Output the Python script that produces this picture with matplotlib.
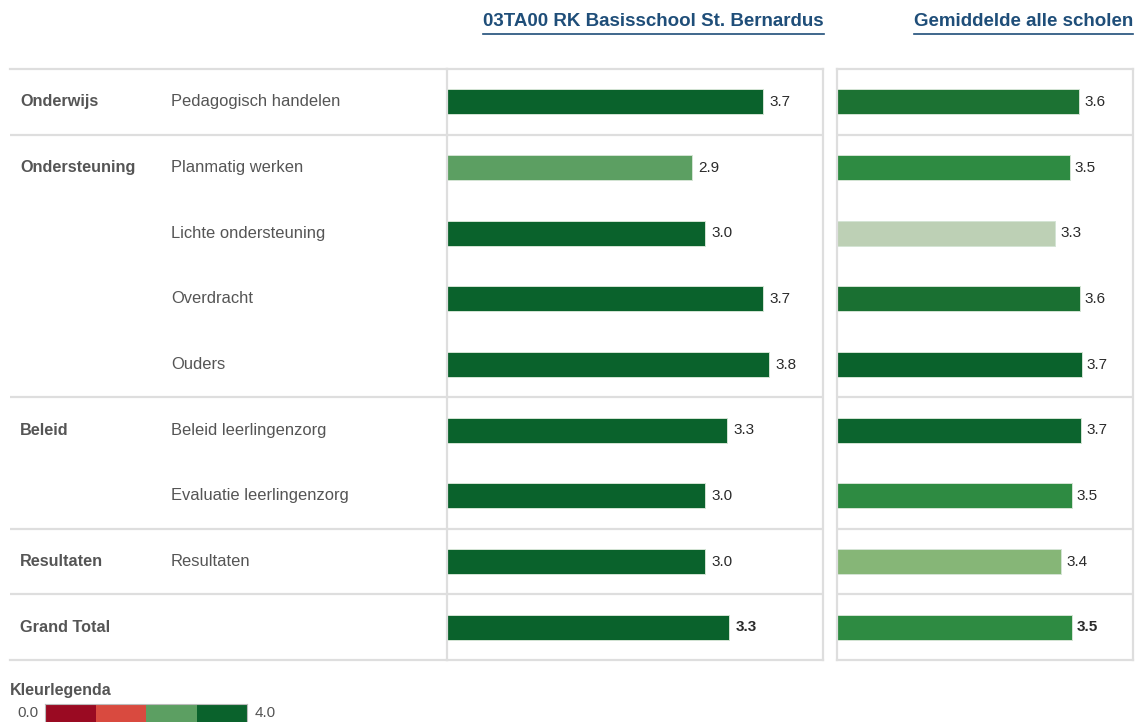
import matplotlib
matplotlib.use("Agg")
import matplotlib.pyplot as plt
from matplotlib.colors import ListedColormap
from matplotlib.lines import Line2D
import numpy as np

# ---------------- data ----------------
groups = ["Onderwijs", "Ondersteuning", "", "", "", "Beleid", "", "Resultaten", "Grand Total"]
items = ["Pedagogisch handelen", "Planmatig werken", "Lichte ondersteuning", "Overdracht",
         "Ouders", "Beleid leerlingenzorg", "Evaluatie leerlingenzorg", "Resultaten", ""]
school_values = [3.70, 2.87, 3.02, 3.70, 3.77, 3.28, 3.02, 3.02, 3.30]
avg_values = [3.64, 3.50, 3.28, 3.65, 3.68, 3.67, 3.53, 3.37, 3.53]
school_title = "03TA00 RK Basisschool St. Bernardus"
avg_title = "Gemiddelde alle scholen"
group_breaks = [1, 5, 7, 8]  # row index where a new group starts
legend_title = "Kleurlegenda"
legend_min, legend_max = "0.0", "4.0"

# styles
school_colors = ["#0a622c", "#5c9f62", "#0a622c", "#0a622c", "#0a622c",
                 "#0a622c", "#0a622c", "#0a622c", "#0a622c"]
avg_colors = ["#1c7233", "#2e8b42", "#bdd0b5", "#1a7032", "#0a622c",
              "#0c642e", "#2e8b42", "#86b677", "#2e8b42"]
legend_colors = ["#9a0a22", "#d94a3f", "#5c9f62", "#0a622c"]

W, H = 1136, 722
fig = plt.figure(figsize=(W / 100, H / 100), dpi=100)
fig.patch.set_facecolor("white")

FONT = ["Liberation Sans", "DejaVu Sans"]
NARROW = ["Liberation Sans Narrow", "Liberation Sans", "DejaVu Sans"]
GRID = "#dedede"
LABEL = "#555555"


def rect(x0, y0, x1, y1):
    return [x0 / W, 1 - y1 / H, (x1 - x0) / W, (y1 - y0) / H]


n = len(items)
top, bottom = 69, 660

# label area
lab = fig.add_axes(rect(10, top, 447, bottom))
lab.set_xlim(0, 1)
lab.set_ylim(n, 0)
lab.set_xticks([]); lab.set_yticks([])
for s in ["left", "right"]:
    lab.spines[s].set_visible(False)
for s in ["top", "bottom"]:
    lab.spines[s].set_color(GRID); lab.spines[s].set_linewidth(1.6)
for b in group_breaks:
    lab.axhline(b, color=GRID, lw=1.6)
for i, (g, it) in enumerate(zip(groups, items)):
    lab.text(10 / 437, i + 0.5, g, ha="left", va="center", fontsize=11.7,
             fontweight="bold", color=LABEL, family=FONT)
    lab.text(161 / 437, i + 0.5, it, ha="left", va="center", fontsize=11.9,
             color=LABEL, family=FONT)


def panel(x0, x1, xmax, values, colors):
    ax = fig.add_axes(rect(x0, top, x1, bottom))
    ax.set_xlim(0, xmax)
    ax.set_ylim(n, 0)
    ax.set_xticks([]); ax.set_yticks([])
    for s in ax.spines.values():
        s.set_color(GRID); s.set_linewidth(1.6)
    for b in group_breaks:
        ax.axhline(b, color=GRID, lw=1.6)
    y = np.arange(n) + 0.5
    ax.barh(y, values, height=0.38, color=colors, edgecolor="#d4e4d4", linewidth=0.7)
    for i, v in enumerate(values):
        ax.text(v + xmax * 0.017, y[i], f"{v:.1f}", ha="left", va="center",
                fontsize=11, color="#2a2a2a", family=NARROW, fontstretch="condensed",
                fontweight="bold" if i == n - 1 else "normal")
    return ax


panel(447, 823, 4.4, school_values, school_colors)
panel(837, 1133, 4.45, avg_values, avg_colors)

# titles with underline
TITLE_C = "#1f4e79"
t1 = fig.text(824 / W, 1 - 22 / H, school_title, ha="right", va="center", fontsize=13.5,
              fontweight="bold", color=TITLE_C, family=NARROW)
t2 = fig.text(1133 / W, 1 - 22 / H, avg_title, ha="right", va="center", fontsize=13.5,
              fontweight="bold", color=TITLE_C, family=NARROW)
fig.canvas.draw()
r = fig.canvas.get_renderer()
for t in (t1, t2):
    bb = t.get_window_extent(r)
    yline = 1 - 34 / H
    fig.add_artist(Line2D([bb.x0 / W, bb.x1 / W], [yline, yline], color=TITLE_C, lw=1.2))

# colour legend
fig.text(10 / W, 1 - 690 / H, legend_title, ha="left", va="center", fontsize=11.5,
         fontweight="bold", color=LABEL, family=FONT)
fig.text(38 / W, 1 - 713 / H, legend_min, ha="right", va="center", fontsize=11,
         color=LABEL, family=FONT)
fig.text(255 / W, 1 - 713 / H, legend_max, ha="left", va="center", fontsize=11,
         color=LABEL, family=FONT)
lg = fig.add_axes(rect(45, 704, 247, 724))
lg.imshow(np.arange(len(legend_colors))[None, :], cmap=ListedColormap(legend_colors),
          aspect="auto", extent=(0, len(legend_colors), 0, 1))
lg.set_xticks([]); lg.set_yticks([])
for s in lg.spines.values():
    s.set_color("#bbbbbb"); s.set_linewidth(0.8)

fig.savefig("out.png", dpi=100, facecolor="white")
